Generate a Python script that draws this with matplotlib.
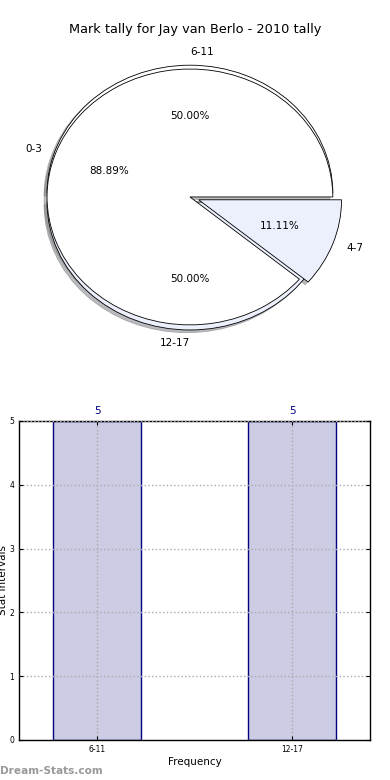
import numpy as np
import matplotlib
matplotlib.use('Agg')
import matplotlib.pyplot as plt

title = 'Mark tally for Jay van Berlo - 2010 tally'

# pie 1 (drawn underneath)
pie1_labels = ['6-11', '12-17']
pie1_values = [5, 5]
# pie 2 (drawn on top)
pie2_labels = ['0-3', '4-7']
pie2_values = [8, 1]

bar_labels = ['6-11', '12-17']
bar_values = [5, 5]

colors = ['#FFFFFF', '#EBF0FC']

fig = plt.figure(figsize=(3.9, 7.8), dpi=100)

# --- pie chart ---
ax1 = fig.add_axes([0.029, 0.5425, 0.916, 0.41])
shadow = {'ox': -0.015, 'oy': -0.015, 'shade': 0.5}
w1, t1, p1 = ax1.pie(pie1_values, labels=pie1_labels, colors=colors, autopct='%.2f%%',
                     explode=[0.03, 0.04], shadow=shadow, startangle=0,
                     wedgeprops={'linewidth': 0.6, 'edgecolor': 'black'},
                     textprops={'fontsize': 7.5})
w2, t2, p2 = ax1.pie(pie2_values, labels=pie2_labels, colors=colors, autopct='%.2f%%',
                     explode=[0, 0.065], shadow=shadow, startangle=0,
                     wedgeprops={'linewidth': 0.6, 'edgecolor': 'black'},
                     textprops={'fontsize': 7.5})
# old-style label alignment
t1[0].set_ha('left')
t1[1].set_ha('right')
ax1.set_aspect('auto')
ax1.set_xlim(-1.25, 1.25)
ax1.set_ylim(-1.25, 1.25)
fig.text(0.5, 1 - 30 / 780, title, ha='center', va='center', fontsize=9.3)

# --- bar chart ---
ax2 = fig.add_axes([0.049, 0.0513, 0.9, 0.409])
x = np.arange(len(bar_labels))
ax2.bar(x, bar_values, width=0.45, color=(0, 0, 0.5, 0.2), edgecolor='navy',
        linewidth=1)
for xi, v in zip(x, bar_values):
    ax2.text(xi, v + 0.08, str(v), ha='center', va='bottom', color='navy', fontsize=7.5)
ax2.set_xlim(-0.4, 1.4)
ax2.set_ylim(0, 5)
ax2.set_xticks(x)
ax2.set_xticklabels(bar_labels)
ax2.tick_params(labelsize=5.5, direction='in', top=True, right=True, length=3)
ax2.grid(True, linestyle=':', color='#AAAAAA', linewidth=1)
ax2.set_axisbelow(False)
ax2.set_xlabel('Frequency', fontsize=7.5, labelpad=2)
ax2.set_ylabel('Stat Intervals', fontsize=7.5, labelpad=1)
for s in ax2.spines.values():
    s.set_linewidth(1)

fig.text(0.0, 0.012, 'Dream-Stats.com', fontsize=7.6, color='#999999',
         fontweight='bold', ha='left', va='center')

fig.savefig('out.png', dpi=100)
